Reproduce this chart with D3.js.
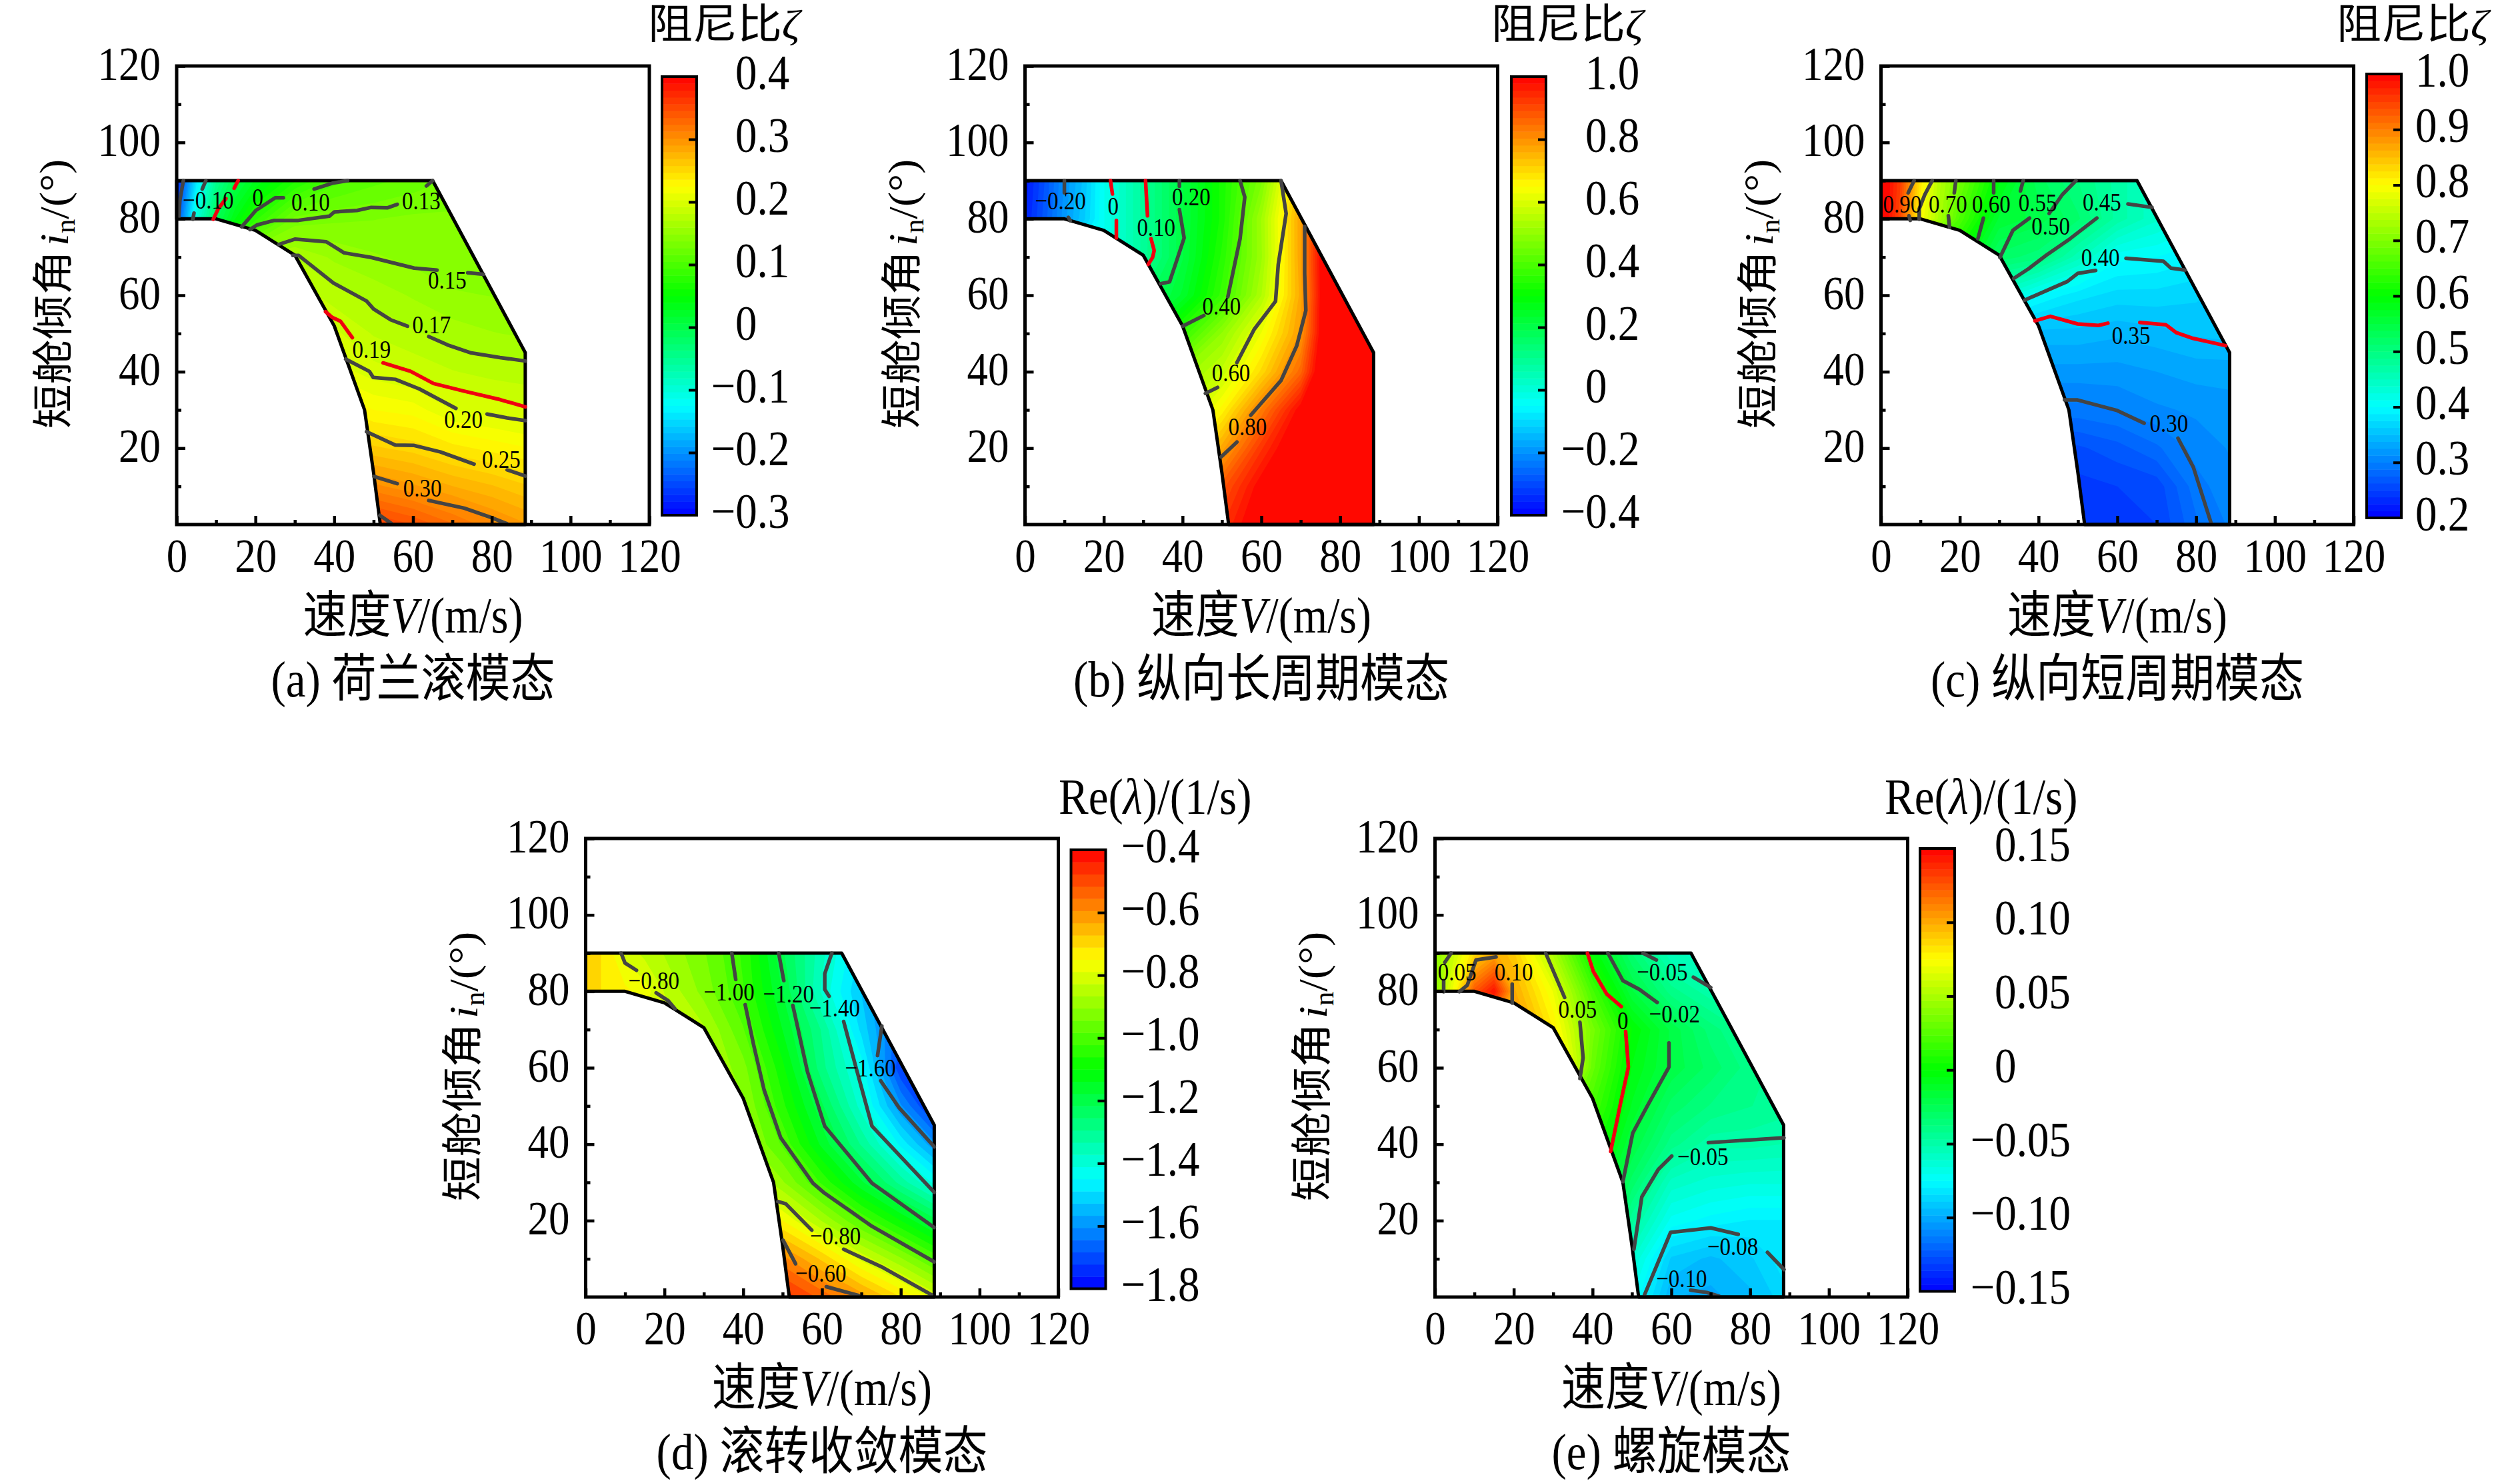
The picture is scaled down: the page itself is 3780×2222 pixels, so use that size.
<!DOCTYPE html>
<html>
<head>
<meta charset="utf-8">
<script src="https://d3js.org/d3.v7.min.js"></script>
<style>
  html, body { margin: 0; background: #fff; }
  text { font-family: "Liberation Serif", "Noto Sans CJK SC", serif; fill: #000; }
</style>
</head>
<body>
<svg id="chart" width="3780" height="2222" xmlns="http://www.w3.org/2000/svg"></svg>
<script>
// grid the estimated values sit on (rows run from i=90 down to i=0)
const speedGrid = [0, 5, 10, 15, 20, 30, 40, 50, 60, 70, 80, 90];
const tiltGrid = [90, 80, 70, 60, 50, 40, 30, 20, 10, 0];

// flight envelope outline, V and i
const envelopeV = [0, 65, 88.5, 88.5, 51.7, 50, 47.7, 40, 30, 20, 10, 0];
const envelopeI = [90, 90, 45, 0, 0, 13.5, 30, 52, 70.5, 77, 80, 80];

const fieldA = [
  [-0.28, -0.14, -0.05, 0, 0.03, 0.07, 0.10, 0.112, 0.12, 0.128, 0.132, 0.135],
  [-0.25, -0.10, -0.01, 0.04, 0.08, 0.13, 0.135, 0.137, 0.14, 0.14, 0.14, 0.14],
  [0.1, 0.1, 0.1, 0.12, 0.16, 0.17, 0.157, 0.15, 0.145, 0.14, 0.138, 0.135],
  [0.19, 0.19, 0.19, 0.19, 0.19, 0.19, 0.175, 0.166, 0.158, 0.15, 0.148, 0.145],
  [0.21, 0.21, 0.21, 0.21, 0.21, 0.21, 0.195, 0.18, 0.172, 0.165, 0.16, 0.157],
  [0.23, 0.23, 0.23, 0.23, 0.23, 0.23, 0.21, 0.197, 0.19, 0.182, 0.177, 0.175],
  [0.25, 0.25, 0.25, 0.25, 0.25, 0.25, 0.24, 0.225, 0.22, 0.203, 0.198, 0.192],
  [0.28, 0.28, 0.28, 0.28, 0.28, 0.28, 0.27, 0.26, 0.253, 0.24, 0.232, 0.225],
  [0.32, 0.32, 0.32, 0.32, 0.32, 0.32, 0.32, 0.305, 0.293, 0.28, 0.27, 0.258],
  [0.37, 0.37, 0.37, 0.37, 0.37, 0.37, 0.37, 0.36, 0.345, 0.325, 0.305, 0.29]
];
const fieldB = [
  [-0.37, -0.29, -0.2, -0.13, -0.03, 0.09, 0.21, 0.33, 0.47, 0.75, 1.1, 1.2],
  [-0.36, -0.28, -0.19, -0.12, -0.03, 0.09, 0.21, 0.33, 0.52, 0.78, 1.2, 1.2],
  [-0.03, -0.03, -0.03, -0.03, -0.03, 0.09, 0.21, 0.35, 0.515, 0.78, 1.2, 1.2],
  [0.1, 0.1, 0.1, 0.1, 0.1, 0.15, 0.24, 0.375, 0.54, 0.77, 1.2, 1.2],
  [0.2, 0.2, 0.2, 0.2, 0.2, 0.25, 0.37, 0.5, 0.63, 0.79, 1.2, 1.2],
  [0.4, 0.4, 0.4, 0.4, 0.4, 0.4, 0.5, 0.57, 0.7, 0.86, 1.2, 1.2],
  [0.5, 0.5, 0.5, 0.5, 0.5, 0.5, 0.55, 0.66, 0.83, 1.0, 1.2, 1.2],
  [0.6, 0.6, 0.6, 0.6, 0.6, 0.6, 0.65, 0.77, 0.93, 1.05, 1.2, 1.2],
  [0.7, 0.7, 0.7, 0.7, 0.7, 0.7, 0.75, 0.88, 1.0, 1.1, 1.2, 1.2],
  [0.8, 0.8, 0.8, 0.8, 0.8, 0.8, 0.85, 0.93, 1.03, 1.15, 1.2, 1.2]
];
const fieldC = [
  [1.02, 0.95, 0.82, 0.74, 0.69, 0.59, 0.53, 0.5, 0.47, 0.44, 0.43, 0.42],
  [1.02, 0.94, 0.8, 0.73, 0.66, 0.56, 0.545, 0.515, 0.47, 0.44, 0.42, 0.41],
  [0.6, 0.6, 0.6, 0.6, 0.6, 0.52, 0.505, 0.455, 0.405, 0.4, 0.39, 0.39],
  [0.44, 0.44, 0.44, 0.44, 0.44, 0.44, 0.4, 0.38, 0.37, 0.37, 0.365, 0.355],
  [0.35, 0.35, 0.35, 0.35, 0.35, 0.35, 0.345, 0.345, 0.34, 0.345, 0.352, 0.355],
  [0.33, 0.33, 0.33, 0.33, 0.33, 0.33, 0.32, 0.32, 0.32, 0.325, 0.33, 0.33],
  [0.3, 0.3, 0.3, 0.3, 0.3, 0.3, 0.295, 0.295, 0.3, 0.31, 0.315, 0.32],
  [0.26, 0.26, 0.26, 0.26, 0.26, 0.26, 0.26, 0.26, 0.27, 0.285, 0.305, 0.315],
  [0.245, 0.245, 0.245, 0.245, 0.245, 0.245, 0.245, 0.245, 0.25, 0.255, 0.295, 0.31],
  [0.24, 0.24, 0.24, 0.24, 0.24, 0.24, 0.24, 0.24, 0.245, 0.25, 0.285, 0.305]
];
const fieldD = [
  [-0.68, -0.72, -0.8, -0.84, -0.87, -0.94, -1.03, -1.21, -1.36, -1.5, -1.65, -1.75],
  [-0.68, -0.72, -0.74, -0.77, -0.83, -0.92, -1.02, -1.18, -1.38, -1.53, -1.7, -1.78],
  [-0.8, -0.8, -0.8, -0.8, -0.8, -0.86, -0.98, -1.14, -1.3, -1.5, -1.68, -1.78],
  [-0.85, -0.85, -0.85, -0.85, -0.85, -0.85, -0.93, -1.09, -1.28, -1.43, -1.72, -1.8],
  [-0.85, -0.85, -0.85, -0.85, -0.85, -0.85, -0.9, -1.05, -1.21, -1.39, -1.6, -1.78],
  [-0.85, -0.85, -0.85, -0.85, -0.85, -0.85, -0.88, -0.99, -1.15, -1.3, -1.46, -1.62],
  [-0.8, -0.8, -0.8, -0.8, -0.8, -0.8, -0.8, -0.9, -1.03, -1.17, -1.31, -1.44],
  [-0.7, -0.7, -0.7, -0.7, -0.7, -0.7, -0.7, -0.75, -0.87, -0.99, -1.1, -1.22],
  [-0.55, -0.55, -0.55, -0.55, -0.55, -0.55, -0.55, -0.58, -0.68, -0.8, -0.9, -1.01],
  [-0.45, -0.45, -0.45, -0.45, -0.45, -0.45, -0.45, -0.45, -0.53, -0.61, -0.71, -0.82]
];
const fieldE = [
  [0.04, 0.06, 0.085, 0.10, 0.09, 0.05, 0.0, -0.033, -0.055, -0.06, -0.06, -0.06],
  [0.04, 0.075, 0.125, 0.145, 0.10, 0.07, 0.02, -0.018, -0.04, -0.05, -0.055, -0.06],
  [0.1, 0.1, 0.1, 0.1, 0.11, 0.08, 0.035, 0.0, -0.02, -0.035, -0.045, -0.05],
  [0.1, 0.1, 0.1, 0.1, 0.1, 0.1, 0.03, -0.005, -0.02, -0.03, -0.04, -0.045],
  [0.05, 0.05, 0.05, 0.05, 0.05, 0.05, 0.02, -0.01, -0.03, -0.038, -0.042, -0.045],
  [0.03, 0.03, 0.03, 0.03, 0.03, 0.03, 0.01, -0.019, -0.04, -0.05, -0.05, -0.052],
  [0.01, 0.01, 0.01, 0.01, 0.01, 0.01, 0.0, -0.03, -0.058, -0.063, -0.065, -0.065],
  [0, 0, 0, 0, 0, 0, 0, -0.045, -0.072, -0.077, -0.08, -0.08],
  [-0.03, -0.03, -0.03, -0.03, -0.03, -0.03, -0.03, -0.06, -0.09, -0.095, -0.09, -0.08],
  [-0.05, -0.05, -0.05, -0.05, -0.05, -0.05, -0.05, -0.07, -0.098, -0.1, -0.095, -0.085]
];

// contour lines: level and broken runs of [V, i]
const linesA = [
  { level: -0.2, runs: [[[1.7, 90], [0.8, 84.7], [0.5, 80]]] },
  { level: -0.1, runs: [[[7.4, 90], [6.5, 87.8]], [[4.4, 81.5], [4.1, 79.9]]] },
  { level: 0, runs: [[[15.6, 90], [14.6, 88]], [[12.5, 85.3], [10.5, 82.5], [9.3, 79.9]]] },
  { level: 0.05, runs: [[[16.5, 77.9], [20.1, 82.2], [25, 85.5], [27.1, 85.5]]] },
  { level: 0.1, runs: [[[34.9, 87.8], [39.8, 89.4], [43.4, 90]]] },
  { level: 0.13, runs: [[[18.6, 77.2], [20.4, 78.4], [24.8, 79.6], [30.9, 79.6], [38.8, 80.7], [40, 81.8], [45.8, 82.2], [49.4, 83], [53.6, 82.9], [56, 83.8]], [[63.4, 88.6], [65, 90]]] },
  { level: 0.15, runs: [[[25.9, 73.3], [30.1, 74.7], [38, 74], [42.5, 71.1], [49.4, 69.9], [60.3, 67.1], [66.1, 66.6]], [[73.9, 65.9], [77.9, 65.5]]] },
  { level: 0.17, runs: [[[29.5, 70.4], [31, 70.4], [39.8, 63.2], [48.2, 58.5], [50, 56.4], [54.3, 53.6], [58.6, 51.9]], [[64, 49.2], [68.8, 47], [74.8, 44.9], [82.1, 43.7], [88.5, 42.8]]] },
  { level: 0.19, runs: [[[37.8, 55.7], [39.5, 54.2], [41.6, 53.2], [44.6, 48.9]], [[52.4, 42.3], [59.4, 40.1], [65.2, 36.9], [73, 34.9], [82.1, 32.7], [88.5, 30.8]]] },
  { level: 0.2, runs: [[[42.9, 43.3], [48.9, 40.1], [49.9, 38.5], [55.5, 38], [61.6, 35.5], [70.9, 30.4]], [[78.8, 28.9], [83.9, 27.9], [88.5, 27.2]]] },
  { level: 0.25, runs: [[[48.2, 24.3], [55.5, 20.8], [60.3, 20.7], [67, 19], [75.5, 15.8]], [[83.9, 14.3], [88.5, 12.7]]] },
  { level: 0.3, runs: [[[50.1, 12.6], [56, 10.7]], [[64, 6.3], [73, 4.3], [79.7, 1.9], [83.9, 0.2]]] },
  { level: 0.35, runs: [[[51.6, 2.4], [54.6, 0.2]]] }
];
const linesB = [
  { level: -0.2, runs: [[[10, 90], [10, 86.8]], [[11, 80.4], [11.5, 79.5]]] },
  { level: 0, runs: [[[21.7, 90], [22.2, 86.5]], [[23.2, 79.6], [23.2, 75]]] },
  { level: 0.1, runs: [[[30.6, 90], [31.1, 80.8]], [[32, 74.8], [32.8, 71.7], [32.4, 69.9], [31.3, 68.1]]] },
  { level: 0.2, runs: [[[39.2, 90], [39.2, 88.5]], [[39.2, 82.4], [40.4, 75], [38, 67.5], [36.7, 63.5], [34.4, 63]]] },
  { level: 0.4, runs: [[[54.6, 90], [55.8, 85.7], [54.6, 74.8], [51.5, 59.6]], [[45.4, 54.7], [40, 51.9]]] },
  { level: 0.6, runs: [[[65, 90], [66.3, 81.4], [64.3, 68.1], [63.6, 58.4], [58.2, 51.1], [53.8, 42.4]], [[48.9, 35.9], [45.8, 34.3]]] },
  { level: 0.8, runs: [[[71, 78], [71, 65.7], [71.3, 56], [69, 46.8], [65, 37.7], [57.3, 28.6]], [[53.8, 21.6], [49.8, 17.7]]] }
];
const linesC = [
  { level: 0.9, runs: [[[8.4, 90], [6.9, 86.8]], [[7.1, 80.8], [7.4, 79.6]]] },
  { level: 0.8, runs: [[[13, 90], [11.1, 86.3], [9.7, 82.6], [9.7, 79.9]]] },
  { level: 0.7, runs: [[[19, 90], [18.6, 86.8]], [[17.1, 80.8], [17.4, 77.8]]] },
  { level: 0.6, runs: [[[28.6, 90], [28.6, 86.8]], [[26, 80.2], [24.6, 74.8]]] },
  { level: 0.55, runs: [[[36.1, 90], [35.4, 87.3]], [[37.7, 80.2], [33.5, 77], [30.2, 69.9]]] },
  { level: 0.5, runs: [[[49.5, 90], [46, 86.3], [42.7, 81.4]], [[54.8, 80.2], [48, 74.8], [42, 70.5], [37.4, 66.9], [33.7, 64.4]]] },
  { level: 0.45, runs: [[[62.7, 83.9], [68.8, 83]]] },
  { level: 0.4, runs: [[[54.5, 66.5], [49.9, 65.7], [47.3, 63.6], [36.4, 58.7]], [[62.2, 69.7], [71.7, 68.9], [73.6, 67.1], [77.2, 66.6]]] },
  { level: 0.35, runs: [[[39.1, 53.3], [43, 54.5], [49.9, 52.5], [55.2, 52.1], [57.6, 52.7]], [[65.7, 52.9], [72.3, 52.3], [75, 50.2], [78.9, 48.8], [87.5, 46.8]]] },
  { level: 0.3, runs: [[[46.6, 32.6], [49.9, 32.6], [59.8, 29.9], [66.8, 26.5]], [[75.4, 22.6], [79.3, 15], [83.8, 0.4]]] }
];
const linesD = [
  { level: -0.8, runs: [[[9, 90], [10, 87.4], [12.9, 85.5]], [[17.9, 79.6], [21, 77.5], [22.7, 75.4]]] },
  { level: -1.0, runs: [[[37.1, 90], [38.1, 83.1]], [[40.5, 76.5], [42.6, 66.2], [45.3, 54.2], [49.5, 41.7], [57.7, 29.8], [60.4, 27.4], [72.7, 18.5], [88.5, 9.2]]] },
  { level: -1.2, runs: [[[49, 90], [50.3, 82.8]], [[52.6, 76.3], [56.3, 59], [60.7, 44.7], [72.7, 29.8], [88.5, 18.2]]] },
  { level: -1.4, runs: [[[62.5, 90], [60.7, 84.6], [60.7, 80.5], [61.8, 78.7]], [[65.5, 72.1], [68.6, 60.2], [72.7, 44.7], [88.5, 27.4]]] },
  { level: -1.6, runs: [[[75.2, 70.9], [74.1, 63.2]], [[74.9, 56.6], [79.6, 49.5], [88.5, 39.3]]] },
  { level: -0.8, runs: [[[48.8, 25], [50.8, 24.4], [57.4, 17.5]], [[65.5, 12.5], [75.5, 7.7], [87.8, 0.6]]] },
  { level: -0.6, runs: [[[50.1, 14.9], [53.3, 8.7]], [[61.1, 2.7], [69.3, 0.4]]] }
];
const linesE = [
  { level: 0.05, runs: [[[4.1, 90], [2.5, 87.6]], [[2.2, 82.8], [2.2, 79.9]]] },
  { level: 0.1, runs: [[[15.5, 89], [10.4, 88.2], [8.2, 81.6], [6.2, 79.9]]] },
  { level: 0.1, runs: [[[19.6, 81.9], [19.6, 76.9]]] },
  { level: 0.05, runs: [[[28.1, 90], [32.9, 78.4]], [[36.8, 71.9], [37.6, 62.6], [36.8, 57.2]]] },
  { level: 0, runs: [[[38.7, 90], [40.2, 85.2], [43.6, 79.3], [47.3, 76]], [[48.4, 69.5], [49.1, 60.2], [47.1, 50.7], [44.6, 38.1]]] },
  { level: -0.02, runs: [[[43.9, 90], [47.7, 82.8], [51.9, 80.5], [56.4, 77.1]], [[59.4, 66.5], [59.4, 60.2], [53.9, 50], [50.2, 42.9], [47.7, 30.2]]] },
  { level: -0.05, runs: [[[52.8, 90], [56.2, 88.2]], [[65.6, 83.7], [70, 81]]] },
  { level: -0.05, runs: [[[69.4, 40.4], [88.6, 41.7]], [[60.1, 36.9], [56.7, 33.4], [52.5, 26.2], [50.5, 12.5]]] },
  { level: -0.08, runs: [[[77, 16.4], [70, 18.1], [59.8, 16.9], [53.2, 0.6]], [[84.4, 11.7], [88.6, 7.2]]] },
  { level: -0.1, runs: [[[64.9, 1.8], [69, 1.2], [72.2, 0.2]]] }
];

// inline labels: text, V, i
const labelsA = [["−0.10", 8, 85], ["0", 20.6, 85.7], ["0.10", 34, 84.5], ["0.13", 62.1, 84.8], ["0.15", 68.7, 64], ["0.17", 64.7, 52.3], ["0.19", 49.5, 45.9], ["0.20", 72.8, 27.5], ["0.25", 82.4, 17.1], ["0.30", 62.4, 9.6]];
const labelsB = [["−0.20", 9, 84.7], ["0", 22.4, 83.3], ["0.10", 33.3, 77.8], ["0.20", 42.2, 85.8], ["0.40", 49.9, 57.2], ["0.60", 52.3, 39.8], ["0.80", 56.5, 25.6]];
const labelsC = [["0.90", 5.4, 83.9], ["0.70", 17, 83.9], ["0.60", 28, 83.9], ["0.55", 39.8, 84.3], ["0.50", 43.1, 78.2], ["0.45", 56.1, 84.5], ["0.40", 55.7, 69.9], ["0.35", 63.5, 49.6], ["0.30", 73.1, 26.5]];
const labelsD = [["−0.80", 17.3, 82.8], ["−1.00", 36.4, 79.9], ["−1.20", 51.5, 79.3], ["−1.40", 63.2, 75.7], ["−1.60", 72.3, 60], ["−0.80", 63.4, 16.1], ["−0.60", 59.7, 6.2]];
const labelsE = [["0.05", 5.6, 85.2], ["0.10", 20, 85.2], ["0.05", 36.2, 75.4], ["0", 47.7, 72.3], ["−0.05", 57.7, 85.2], ["−0.02", 60.8, 74.1], ["−0.05", 68, 36.8], ["−0.08", 75.6, 13.3], ["−0.10", 62.6, 4.8]];

// colour bar ticks
const ticksA = [-0.3, -0.2, -0.1, 0, 0.1, 0.2, 0.3, 0.4];
const ticksB = [-0.4, -0.2, 0, 0.2, 0.4, 0.6, 0.8, 1.0];
const ticksC = [0.2, 0.3, 0.4, 0.5, 0.6, 0.7, 0.8, 0.9, 1.0];
const ticksD = [-1.8, -1.6, -1.4, -1.2, -1.0, -0.8, -0.6, -0.4];
const ticksE = [-0.15, -0.10, -0.05, 0, 0.05, 0.10, 0.15];

const axisTicks = d3.range(0, 121, 20);
const axisMinor = d3.range(10, 120, 20);
const rainbow = ["#0000ff", "#00ffff", "#00ff00", "#ffff00", "#ff0000"];

const panels = [
  { field: fieldA, lines: linesA, labels: labelsA, ticks: ticksA, digits: 1, red: [0, 0.19], bands: 64,
    left: 265, top: 99, barLeft: 993, barTop: 115, barBottom: 773, tickX: 1103, titleX: 972, title: "damping", caption: "(a) 荷兰滚模态" },
  { field: fieldB, lines: linesB, labels: labelsB, ticks: ticksB, digits: 1, red: [0, 0.1], bands: 64,
    left: 1537.5, top: 99, barLeft: 2267, barTop: 115, barBottom: 773, tickX: 2378, titleX: 2237, title: "damping", caption: "(b) 纵向长周期模态" },
  { field: fieldC, lines: linesC, labels: labelsC, ticks: ticksC, digits: 1, red: [0.35], bands: 64,
    left: 2821.5, top: 99, barLeft: 3550, barTop: 111, barBottom: 777, tickX: 3623, titleX: 3505, title: "damping", caption: "(c) 纵向短周期模态" },
  { field: fieldD, lines: linesD, labels: labelsD, ticks: ticksD, digits: 1, red: [], bands: 36,
    left: 878.5, top: 1258, barLeft: 1606.5, barTop: 1275, barBottom: 1933.5, tickX: 1718, titleX: 1588, title: "re", caption: "(d) 滚转收敛模态" },
  { field: fieldE, lines: linesE, labels: labelsE, ticks: ticksE, digits: 2, red: [0], bands: 64,
    left: 2152.5, top: 1258, barLeft: 2880, barTop: 1273, barBottom: 1937.5, tickX: 2992, titleX: 2827, title: "re", caption: "(e) 螺旋模态" }
];

const plotW = 709, plotH = 688, barW = 52;
const stretch = "scale(1,1.15)";
const svg = d3.select("#chart");
svg.append("rect").attr("width", 3780).attr("height", 2222).attr("fill", "#fff");

const defs = svg.append("defs");

// text helper: stretched a bit vertically like the source figure
function label(g, x, y, size, anchor) {
  return g.append("text")
    .attr("transform", `translate(${x},${y}) ${stretch}`)
    .attr("font-size", size)
    .attr("text-anchor", anchor);
}

panels.forEach((p, n) => {
  const g = svg.append("g");
  const x = d3.scaleLinear().domain([0, 120]).range([p.left, p.left + plotW]);
  const y = d3.scaleLinear().domain([0, 120]).range([p.top + plotH, p.top]);

  // colours, banded the same way on the field and on the bar
  const lo = p.ticks[0], hi = p.ticks[p.ticks.length - 1];
  const color = d3.scaleLinear().domain(d3.range(5).map(k => lo + k * (hi - lo) / 4)).range(rainbow).clamp(true);
  const bandEdges = d3.range(p.bands + 1).map(k => lo + k * (hi - lo) / p.bands);
  const bandMid = k => (bandEdges[k] + bandEdges[k + 1]) / 2;

  // clip to the envelope
  const outline = d3.line().x(d => x(d[0])).y(d => y(d[1]));
  const envelope = envelopeV.map((v, k) => [v, envelopeI[k]]);
  defs.append("clipPath").attr("id", "env" + n)
    .append("path").attr("d", outline(envelope) + "Z");

  // filled contours on the value grid
  const idxV = d3.scaleLinear().domain(d3.range(speedGrid.length)).range(speedGrid);
  const idxI = d3.scaleLinear().domain(d3.range(tiltGrid.length)).range(tiltGrid);
  const path = d3.geoPath(d3.geoTransform({
    point(cx, cy) { this.stream.point(x(idxV(cx - 0.5)), y(idxI(cy - 0.5))); }
  }));
  const thresholds = bandEdges.slice(0, -1).map((e, k) => k === 0 ? -1000 : e);
  const bands = d3.contours().size([speedGrid.length, tiltGrid.length]).thresholds(thresholds)(p.field.flat());
  g.append("g").attr("clip-path", `url(#env${n})`)
    .selectAll("path").data(bands).join("path")
    .attr("d", path)
    .attr("fill", (d, k) => color(bandMid(k)));

  // envelope outline
  g.append("path").attr("d", outline(envelope) + "Z")
    .attr("fill", "none").attr("stroke", "#000").attr("stroke-width", 5).attr("stroke-linejoin", "round");

  // contour lines
  const lineGen = d3.line().x(d => x(d[0])).y(d => y(d[1]));
  p.lines.forEach(l => {
    g.append("g").selectAll("path").data(l.runs).join("path")
      .attr("d", lineGen)
      .attr("fill", "none")
      .attr("stroke", p.red.includes(l.level) ? "#f00010" : "#444")
      .attr("stroke-width", 5.5)
      .attr("stroke-linecap", "round").attr("stroke-linejoin", "round");
  });

  // contour labels
  p.labels.forEach(t => {
    label(g, x(t[1]), y(t[2]) + 13, 33, "middle").text(t[0]);
  });

  // frame
  g.append("rect").attr("x", p.left).attr("y", p.top).attr("width", plotW).attr("height", plotH)
    .attr("fill", "none").attr("stroke", "#000").attr("stroke-width", 5);

  // axes: ticks point inward, labels moved by hand because of the stretch
  const xAxis = g.append("g").attr("transform", `translate(0,${p.top + plotH})`)
    .call(d3.axisBottom(x).tickValues(axisTicks).tickSize(-13));
  const xMinor = g.append("g").attr("transform", `translate(0,${p.top + plotH})`)
    .call(d3.axisBottom(x).tickValues(axisMinor).tickSize(-7).tickFormat(""));
  const yAxis = g.append("g").attr("transform", `translate(${p.left},0)`)
    .call(d3.axisLeft(y).tickValues(axisTicks.slice(1)).tickSize(-13));
  const yMinor = g.append("g").attr("transform", `translate(${p.left},0)`)
    .call(d3.axisLeft(y).tickValues(axisMinor).tickSize(-7).tickFormat(""));
  [xAxis, xMinor, yAxis, yMinor].forEach(a => {
    a.select(".domain").remove();
    a.selectAll("line").attr("stroke", "#000").attr("stroke-width", 4.5);
  });
  xAxis.selectAll("text").attr("x", null).attr("y", null).attr("dy", null)
    .attr("font-size", 63).attr("font-family", null).attr("text-anchor", "middle")
    .attr("transform", `translate(0,71) ${stretch}`);
  xMinor.selectAll("text").remove();
  yAxis.selectAll("text").attr("x", null).attr("y", null).attr("dy", null)
    .attr("font-size", 63).attr("font-family", null).attr("text-anchor", "end")
    .attr("transform", `translate(-24,20) ${stretch}`);
  yMinor.selectAll("text").remove();

  // axis titles
  const xt = label(g, p.left + plotW / 2, p.top + plotH + 162, 66, "middle");
  xt.append("tspan").text("速度");
  xt.append("tspan").attr("font-style", "italic").text("V");
  xt.append("tspan").text("/(m/s)");

  const yt = g.append("text")
    .attr("transform", `translate(${p.left - 163},${p.top + plotH / 2 - 2}) rotate(-90) scale(1.08,1)`)
    .attr("font-size", 62).attr("text-anchor", "middle");
  yt.append("tspan").text("短舱倾角");
  yt.append("tspan").attr("font-style", "italic").attr("dx", 6).text("i");
  yt.append("tspan").attr("font-size", 40).attr("dy", 10).text("n");
  yt.append("tspan").attr("dy", -10).text("/(°)");

  label(g, p.left + plotW / 2, p.top + plotH + 258, 67, "middle").text(p.caption);

  // colour bar
  const barY = d3.scaleLinear().domain([lo, hi]).range([p.barBottom, p.barTop]);
  g.append("g").selectAll("rect").data(d3.range(p.bands)).join("rect")
    .attr("x", p.barLeft).attr("width", barW)
    .attr("y", k => barY(bandEdges[k + 1]))
    .attr("height", k => barY(bandEdges[k]) - barY(bandEdges[k + 1]) + 0.5)
    .attr("fill", k => color(bandMid(k)));
  g.append("rect").attr("x", p.barLeft).attr("y", p.barTop)
    .attr("width", barW).attr("height", p.barBottom - p.barTop)
    .attr("fill", "none").attr("stroke", "#000").attr("stroke-width", 4);

  const barFmt = v => {
    const s = Math.abs(v).toFixed(p.digits);
    return v === 0 ? "0" : (v < 0 ? "−" : "") + s;
  };
  const barAxis = g.append("g").attr("transform", `translate(${p.barLeft + barW},0)`)
    .call(d3.axisRight(barY).tickValues(p.ticks).tickSize(-12).tickFormat(barFmt));
  barAxis.select(".domain").remove();
  barAxis.selectAll("line").attr("stroke", "#000").attr("stroke-width", 4)
    .attr("opacity", d => (d === lo || d === hi) ? 0 : 1);
  barAxis.selectAll("text").attr("x", null).attr("y", null).attr("dy", null)
    .attr("font-size", 65).attr("font-family", null).attr("text-anchor", "start")
    .attr("transform", d => `translate(${p.tickX - (p.barLeft + barW) - (d < 0 ? 36.5 : 0)},18) ${stretch}`);

  // bar title
  if (p.title === "damping") {
    const bt = g.append("text")
      .attr("transform", `translate(${p.titleX},${p.top - 41}) scale(1.08,1)`)
      .attr("font-size", 62).attr("text-anchor", "start");
    bt.append("tspan").text("阻尼比");
    bt.append("tspan").attr("font-style", "italic").text("ζ");
  } else {
    const bt = label(g, p.titleX, p.top - 37, 67, "start");
    bt.append("tspan").text("Re(");
    bt.append("tspan").attr("font-style", "italic").text("λ");
    bt.append("tspan").text(")/(1/s)");
  }
});
</script>
</body>
</html>
